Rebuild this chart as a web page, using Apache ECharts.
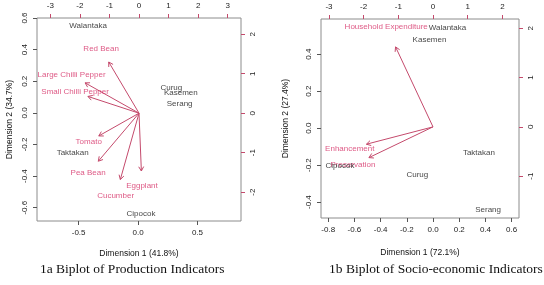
<!DOCTYPE html>
<html>
<head>
<meta charset="utf-8">
<script src="https://cdn.jsdelivr.net/npm/echarts@6/dist/echarts.min.js"></script>
<style>
  html, body { margin: 0; padding: 0; background: #fff; }
  #main { width: 544px; height: 285px; }
</style>
</head>
<body>
<div id="main"></div>
<script>
// ---- panel a : production indicators ----
var obsNamesA = ['Walantaka', 'Curug', 'Kasemen', 'Serang', 'Taktakan', 'Cipocok'];
var obsXA = [-0.42, 0.28, 0.36, 0.35, -0.55, 0.025];
var obsYA = [0.55, 0.16, 0.127, 0.057, -0.253, -0.64];
var varNamesA = ['Red Bean', 'Large Chilli Pepper', 'Small Chilli Pepper', 'Tomato', 'Pea Bean', 'Cucumber', 'Eggplant'];
var varXA = [-1.28, -2.28, -2.16, -1.70, -1.72, -0.79, 0.10];
var varYA = [1.62, 0.96, 0.53, -0.72, -1.52, -2.10, -1.83];
var ticksXA = [-0.5, 0, 0.5];
var ticksYA = [-0.6, -0.4, -0.2, 0, 0.2, 0.4, 0.6];
var ticksTopA = [-3, -2, -1, 0, 1, 2, 3];
var ticksRightA = [-2, -1, 0, 1, 2];

// ---- panel b : socio-economic indicators ----
var obsNamesB = ['Walantaka', 'Kasemen', 'Taktakan', 'Curug', 'Cipocok', 'Serang'];
var obsXB = [0.11, -0.027, 0.35, -0.12, -0.71, 0.42];
var obsYB = [0.54, 0.48, -0.135, -0.25, -0.205, -0.44];
var varNamesB = ['Household Expenditure', 'Enhancement', 'Preservation'];
var varXB = [-1.35, -2.40, -2.31];
var varYB = [2.03, -0.44, -0.78];
var ticksXB = [-0.8, -0.6, -0.4, -0.2, 0, 0.2, 0.4, 0.6];
var ticksYB = [-0.4, -0.2, 0, 0.2, 0.4];
var ticksTopB = [-3, -2, -1, 0, 1, 2];
var ticksRightB = [-1, 0, 1, 2];

var arrowShrink = 0.8;   // biplot draws arrows to 80% of the loading
var redText = '#d62f66';
var redLine = '#c44a6c';
var font = 'Liberation Sans';

var chartDom = document.getElementById('main');
var myChart = echarts.init(chartDom);

function zip3(names, xs, ys) {
  return names.map(function (n, i) { return [xs[i], ys[i], n]; });
}

function valAxis(grid, pos, min, max, ticks, dec, tickColor, extra) {
  var vertical = pos === 'left' || pos === 'right';
  var ax = {
    type: 'value', gridIndex: grid, position: pos, min: min, max: max,
    axisLine: { show: false, onZero: false },
    splitLine: { show: false },
    axisTick: { show: true, length: 4, customValues: ticks, lineStyle: { color: tickColor } },
    axisLabel: {
      customValues: ticks, fontSize: 8, fontFamily: font, color: '#222', margin: 8,
      rotate: vertical ? 90 : 0,
      formatter: function (v) { return (+v).toFixed(dec); }
    }
  };
  return Object.assign(ax, extra || {});
}

function arrowSeries(xi, yi, data) {
  return {
    type: 'custom', xAxisIndex: xi, yAxisIndex: yi, data: data, silent: true,
    renderItem: function (params, api) {
      var p0 = api.coord([0, 0]);
      var p1 = api.coord([api.value(0) * arrowShrink, api.value(1) * arrowShrink]);
      var ang = Math.atan2(p1[1] - p0[1], p1[0] - p0[0]);
      var h = 5, a = Math.PI / 6;
      var style = { stroke: redLine, lineWidth: 1 };
      return {
        type: 'group',
        children: [
          { type: 'line', shape: { x1: p0[0], y1: p0[1], x2: p1[0], y2: p1[1] }, style: style },
          { type: 'line', shape: { x1: p1[0], y1: p1[1], x2: p1[0] - h * Math.cos(ang - a), y2: p1[1] - h * Math.sin(ang - a) }, style: style },
          { type: 'line', shape: { x1: p1[0], y1: p1[1], x2: p1[0] - h * Math.cos(ang + a), y2: p1[1] - h * Math.sin(ang + a) }, style: style }
        ]
      };
    }
  };
}

function textSeries(xi, yi, data, color) {
  return {
    type: 'scatter', xAxisIndex: xi, yAxisIndex: yi, data: data, silent: true,
    symbolSize: 1, itemStyle: { color: 'rgba(0,0,0,0)' },
    label: {
      show: true, position: 'inside', color: color, fontSize: 8, fontFamily: font,
      formatter: function (p) { return p.data[2]; }
    }
  };
}

var nameStyle = { fontSize: 8.5, fontFamily: font, color: '#111' };

var option = {
  animation: false,
  grid: [
    { left: 37, right: 303, top: 18, bottom: 64, show: true, borderColor: '#8c8c8c', borderWidth: 1 },
    { left: 321, right: 25, top: 19, bottom: 67, show: true, borderColor: '#8c8c8c', borderWidth: 1 }
  ],
  xAxis: [
    valAxis(0, 'bottom', -0.85, 0.866, ticksXA, 1, '#555',
      { name: 'Dimension 1 (41.8%)', nameLocation: 'middle', nameGap: 28, nameTextStyle: nameStyle }),
    valAxis(0, 'top', -3.45, 3.45, ticksTopA, 0, redLine),
    valAxis(1, 'bottom', -0.855, 0.656, ticksXB, 1, '#555',
      { name: 'Dimension 1 (72.1%)', nameLocation: 'middle', nameGap: 30, nameTextStyle: nameStyle }),
    valAxis(1, 'top', -3.23, 2.48, ticksTopB, 0, redLine)
  ],
  yAxis: [
    valAxis(0, 'left', -0.684, 0.6, ticksYA, 1, '#555',
      { name: 'Dimension 2 (34.7%)', nameLocation: 'middle', nameGap: 23, nameTextStyle: nameStyle }),
    valAxis(0, 'right', -2.73, 2.41, ticksRightA, 0, redLine),
    valAxis(1, 'left', -0.486, 0.59, ticksYB, 1, '#555',
      { name: 'Dimension 2 (27.4%)', nameLocation: 'middle', nameGap: 31, nameTextStyle: nameStyle }),
    valAxis(1, 'right', -1.85, 2.19, ticksRightB, 0, redLine)
  ],
  series: [
    arrowSeries(1, 1, zip3(varNamesA, varXA, varYA)),
    textSeries(1, 1, zip3(varNamesA, varXA, varYA), redText),
    textSeries(0, 0, zip3(obsNamesA, obsXA, obsYA), '#111'),
    arrowSeries(3, 3, zip3(varNamesB, varXB, varYB)),
    textSeries(3, 3, zip3(varNamesB, varXB, varYB), redText),
    textSeries(2, 2, zip3(obsNamesB, obsXB, obsYB), '#111')
  ],
  graphic: [
    { type: 'text', left: 40, top: 262, style: { text: '1a Biplot of Production Indicators', font: '13.5px "Liberation Serif"', fill: '#111' } },
    { type: 'text', left: 329, top: 262, style: { text: '1b Biplot of Socio-economic Indicators', font: '13.5px "Liberation Serif"', fill: '#111' } }
  ]
};

option && myChart.setOption(option);
</script>
</body>
</html>
